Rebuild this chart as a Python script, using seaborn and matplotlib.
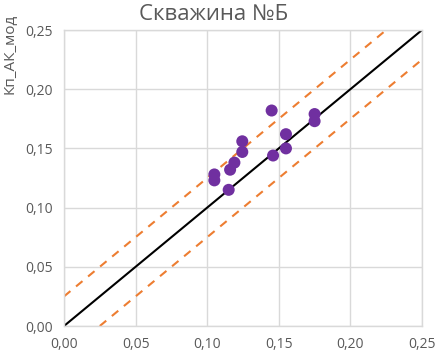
import matplotlib
matplotlib.use("Agg")
import matplotlib.pyplot as plt
import seaborn as sns
import numpy as np

# data
kp_x = [0.145, 0.155, 0.155, 0.146, 0.1245, 0.1245, 0.119, 0.116, 0.105, 0.105, 0.115, 0.175, 0.175]
kp_y = [0.182, 0.162, 0.150, 0.144, 0.156, 0.147, 0.138, 0.132, 0.128, 0.123, 0.115, 0.179, 0.173]
line_x = [0.0, 0.25]
line_y = [0.0, 0.25]
upper_x = [0.0, 0.225]
upper_y = [0.025, 0.25]
lower_x = [0.025, 0.25]
lower_y = [0.0, 0.225]
ticks = [0.0, 0.05, 0.10, 0.15, 0.20, 0.25]
tick_labels = ["0,00", "0,05", "0,10", "0,15", "0,20", "0,25"]
title = "Скважина №Б"
ylabel = "Кп_АК_мод"

sns.set_theme(style="white")
plt.rcParams['font.family'] = ['Open Sans', 'DejaVu Sans']

fig = plt.figure(figsize=(4.36, 3.57), dpi=100)
ax = fig.add_axes([64/436, 31/357, 358/436, 296/357])

gray = "#595959"
grid = "#D9D9D9"

sns.lineplot(x=upper_x, y=upper_y, ax=ax, color="#ED7D31", lw=1.5, linestyle=(0, (4, 3.5)))
sns.lineplot(x=lower_x, y=lower_y, ax=ax, color="#ED7D31", lw=1.5, linestyle=(0, (4, 3.5)))
sns.lineplot(x=line_x, y=line_y, ax=ax, color="black", lw=1.5)
sns.scatterplot(x=kp_x, y=kp_y, ax=ax, color="#7030A0", s=75, edgecolor="none", zorder=5)

ax.set_xlim(0, 0.25)
ax.set_ylim(0, 0.25)
ax.set_xticks(ticks)
ax.set_yticks(ticks)
ax.set_xticklabels(tick_labels, color=gray, fontsize=10)
ax.set_yticklabels(tick_labels, color=gray, fontsize=10)
ax.tick_params(length=0, pad=8)
ax.grid(True, color=grid, lw=1)
ax.set_axisbelow(True)
for s in ax.spines.values():
    s.set_color(grid)
    s.set_linewidth(1)

fig.text(214/436, 1 - 14/357, title, color=gray, fontsize=16, ha="center", va="center")
ax.set_ylabel(ylabel, color=gray, fontsize=11)
ax.yaxis.set_label_coords(-0.13, 0.92)

fig.savefig("out.png", dpi=100)
